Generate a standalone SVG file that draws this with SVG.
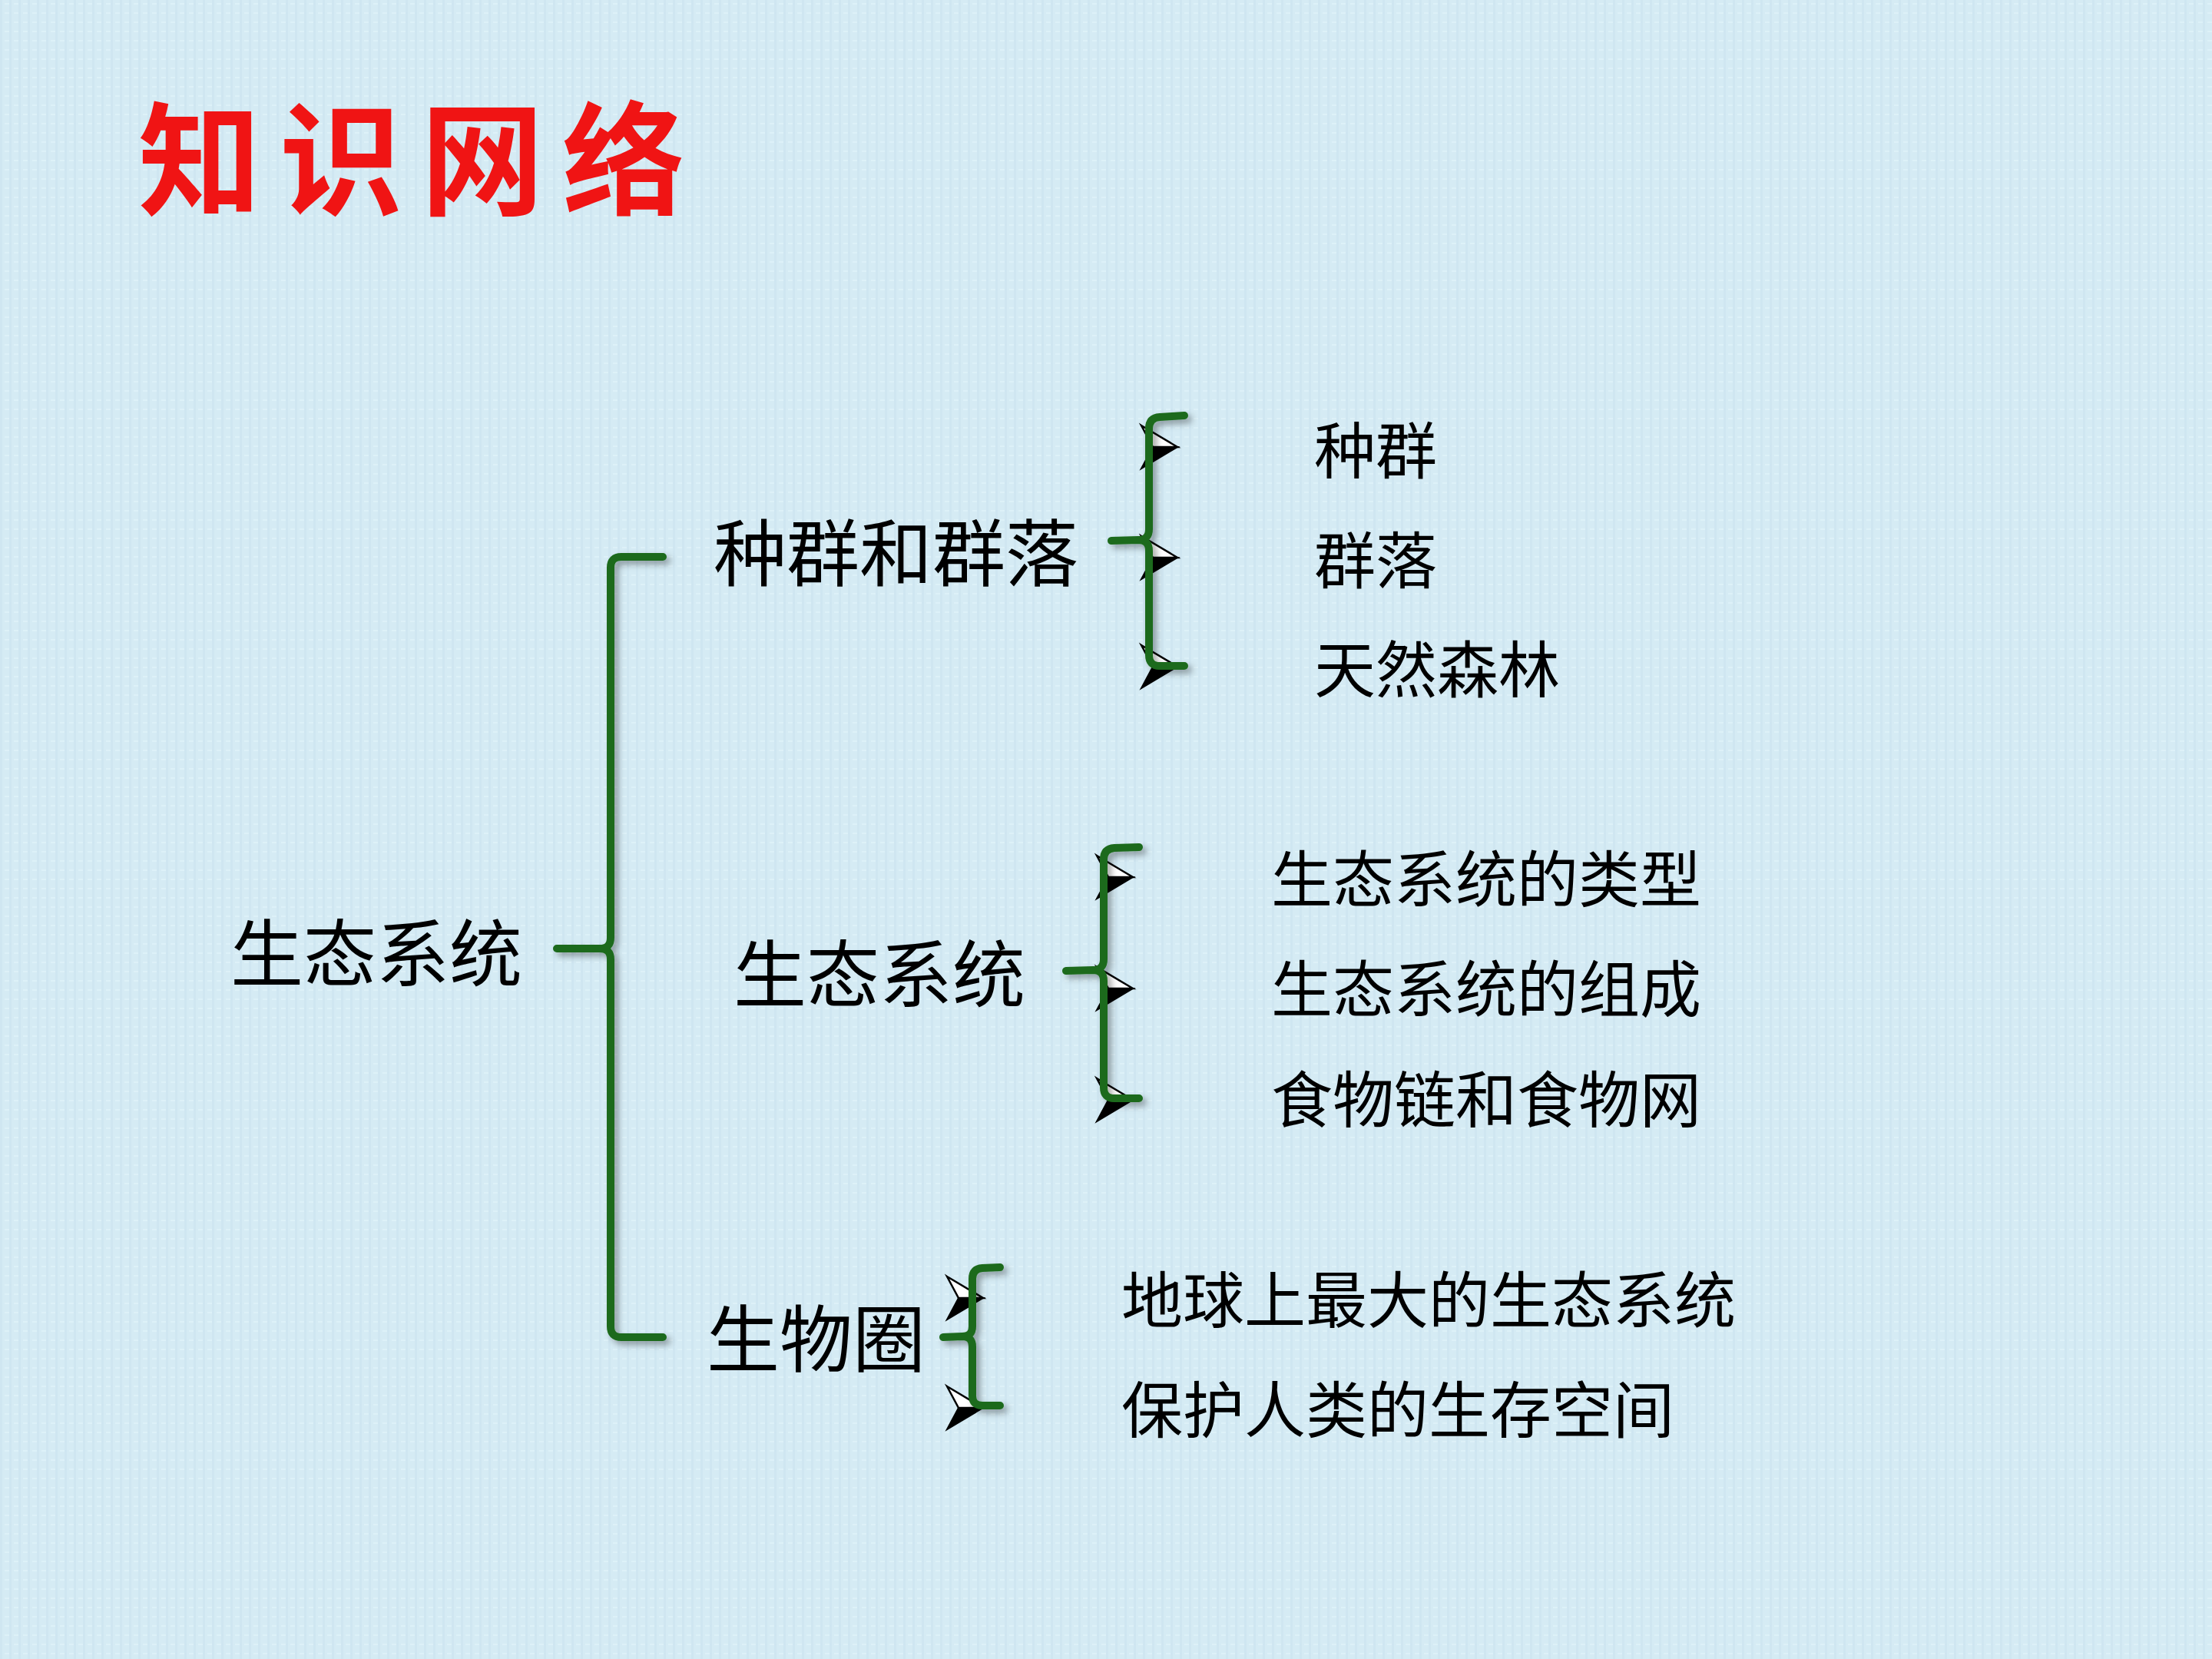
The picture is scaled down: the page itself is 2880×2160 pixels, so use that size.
<svg xmlns="http://www.w3.org/2000/svg" xmlns:xlink="http://www.w3.org/1999/xlink" width="2880" height="2160" viewBox="0 0 2880 2160">
<defs>
<style>
.t{font-family:"Noto Sans CJK SC","Noto Sans CJK JP",sans-serif;fill:#000;font-weight:400;}
.m{font-size:95px;}
.s{font-size:80px;}
.title{font-family:"Noto Sans CJK SC","Noto Sans CJK JP",sans-serif;font-size:160px;font-weight:700;fill:#F01414;letter-spacing:24px;}
.br{fill:none;stroke:#1D6B1D;stroke-width:10;stroke-linecap:round;stroke-linejoin:round;}
</style>
<filter id="sh" x="-20%" y="-5%" width="160%" height="115%">
<feDropShadow dx="5" dy="5" stdDeviation="4" flood-color="#000" flood-opacity="0.35"/>
</filter>
<g id="arr">
<polygon points="-47,-28 0,0 -32,0" fill="#fff" stroke="#000" stroke-width="2.5" stroke-linejoin="miter"/>
<polygon points="-32,0 0,0 -47,28" fill="#000" stroke="#000" stroke-width="2"/>
</g>
<pattern id="tex" width="12" height="12" patternUnits="userSpaceOnUse">
<rect width="12" height="12" fill="#D5EBF4"/>
<rect x="0" y="0" width="3" height="12" fill="#CCE3EE" opacity="0.6"/>
<rect x="6" y="4" width="6" height="2" fill="#E2F4FA" opacity="0.7"/>
</pattern>
</defs>
<rect width="2880" height="2160" fill="url(#tex)"/>

<g id="title"><text class="title" x="180" y="268">知识网络</text></g>

<g id="connectors">
<use xlink:href="#arr" href="#arr" x="1533" y="582"/>
<use xlink:href="#arr" href="#arr" x="1533" y="726"/>
<use xlink:href="#arr" href="#arr" x="1533" y="868"/>
<use xlink:href="#arr" href="#arr" x="1475" y="1142"/>
<use xlink:href="#arr" href="#arr" x="1475" y="1287"/>
<use xlink:href="#arr" href="#arr" x="1475" y="1432"/>
<use xlink:href="#arr" href="#arr" x="1280" y="1690"/>
<use xlink:href="#arr" href="#arr" x="1280" y="1833"/>
<g filter="url(#sh)">
<path class="br" d="M863 725 L809 725 Q795 725 795 739 L795 1221 Q795 1235 781 1235 L725 1235 M781 1235 Q795 1235 795 1249 L795 1727 Q795 1741 809 1741 L863 1741"/>
<path class="br" d="M1542 541 L1510 543 Q1496 544 1496 558 L1496 689 Q1496 703 1482 703 L1447 704 M1482 703 Q1496 703 1496 717 L1496 853 Q1496 867 1510 867 L1542 867"/>
<path class="br" d="M1483 1103 L1451 1104 Q1437 1105 1437 1119 L1437 1249 Q1437 1263 1423 1263 L1388 1264 M1423 1263 Q1437 1263 1437 1277 L1437 1416 Q1437 1430 1451 1430 L1483 1430"/>
<path class="br" d="M1302 1650 L1279 1651 Q1266 1652 1266 1665 L1266 1727 Q1266 1740 1253 1740 L1228 1741 M1253 1740 Q1266 1740 1266 1753 L1266 1817 Q1266 1830 1279 1830 L1302 1830"/>
</g>
</g>

<g id="root"><text class="t m" x="300" y="1277">生态系统</text></g>
<g id="n1"><text class="t m" x="929" y="756">种群和群落</text></g>
<g id="n2"><text class="t m" x="955" y="1304">生态系统</text></g>
<g id="n3"><text class="t m" x="920" y="1779">生物圈</text></g>

<g id="n1-leaves">
<text class="t s" x="1711" y="616">种群</text>
<text class="t s" x="1711" y="759">群落</text>
<text class="t s" x="1711" y="901">天然森林</text>
</g>
<g id="n2-leaves">
<text class="t s" x="1655" y="1174">生态系统的类型</text>
<text class="t s" x="1655" y="1317">生态系统的组成</text>
<text class="t s" x="1655" y="1461">食物链和食物网</text>
</g>
<g id="n3-leaves">
<text class="t s" x="1460" y="1722">地球上最大的生态系统</text>
<text class="t s" x="1460" y="1865">保护人类的生存空间</text>
</g>
</svg>
